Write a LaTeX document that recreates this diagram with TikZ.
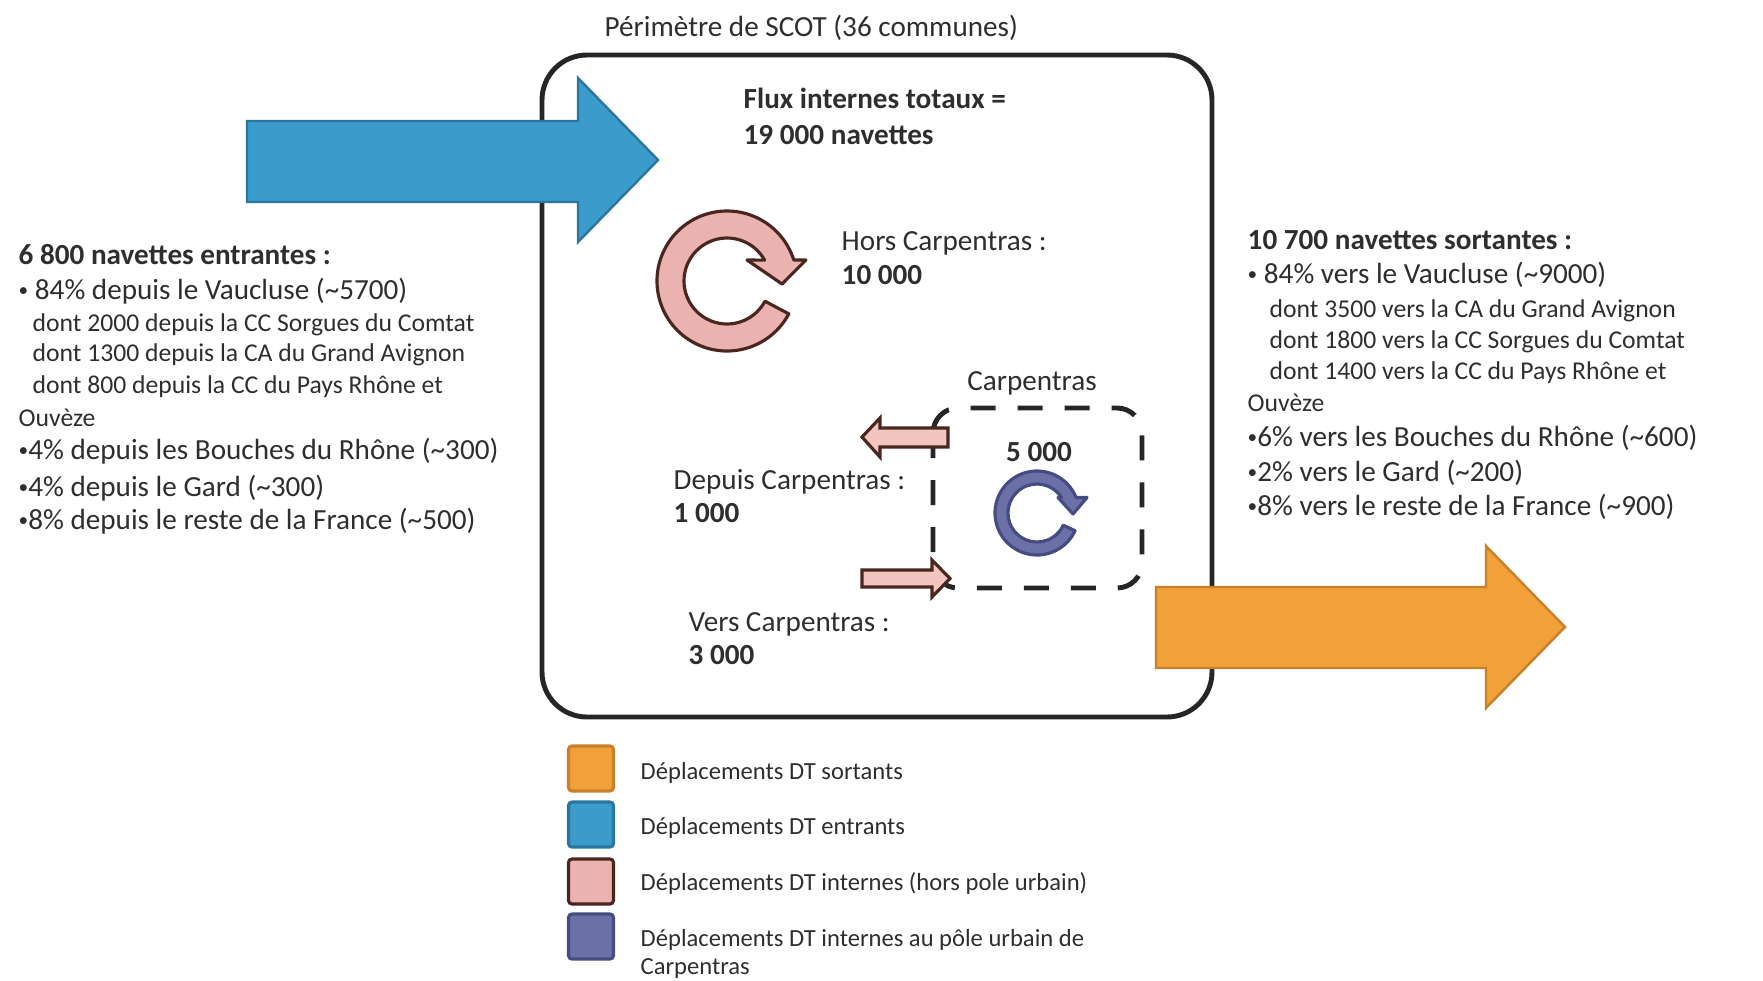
\documentclass[tikz,border=0pt]{standalone}
\usepackage{fontspec}
\setmainfont{Carlito}
\usepackage{xcolor}
\definecolor{entrant}{HTML}{3B9BCB}
\definecolor{entrantdk}{HTML}{2B769E}
\definecolor{sortant}{HTML}{F2A03A}
\definecolor{sortantdk}{HTML}{C9802A}
\definecolor{interne}{HTML}{EBB3AF}
\definecolor{internelt}{HTML}{F2C6BE}
\definecolor{internedk}{HTML}{4A2620}
\definecolor{urbain}{HTML}{6B71A7}
\definecolor{urbaindk}{HTML}{464C82}
\definecolor{cadre}{HTML}{262626}
\definecolor{encre}{HTML}{2E2E2E}
\usepackage{tikz}
\usetikzlibrary{positioning}
\newcommand{\puce}{{\fontsize{5.5}{6}\selectfont\raisebox{0.25ex}{•}}}

\begin{document}
\begin{tikzpicture}[
    txt/.style={inner sep=0pt, anchor=base west, text=encre, font=\fontsize{8.3}{10}\selectfont},
    sub/.style={txt, font=\fontsize{7.3}{9}\selectfont},
    hdr/.style={txt, font=\fontsize{8.3}{10}\selectfont\bfseries},
    leg/.style={inner sep=0pt, anchor=west, align=left, text=encre, font=\fontsize{7}{8}\selectfont},
    legbox/.style={draw, line width=0.9pt, rounded corners=1pt, minimum size=0.45cm, inner sep=0pt},
    flow/.style={line width=0.7pt, line join=miter},
    swirl/.style={line width=0.9pt, line join=round}]
  \useasboundingbox (0,0) rectangle (17.63,9.80);
  % perimetre du SCOT
  \draw[cadre, line width=1.4pt, rounded corners=0.45cm] (5.42,9.25) rectangle (12.12,2.63);
  \node[txt] (titre) at (6.04,9.44) {Périmètre de SCOT (36 communes)};

  % flux entrants / sortants
  \draw[flow, fill=entrant, draw=entrantdk] (2.47,8.59) -- (5.78,8.59) -- (5.78,9.02) -- (6.58,8.20)
    -- (5.78,7.38) -- (5.78,7.78) -- (2.47,7.78) -- cycle;
  \draw[flow, fill=sortant, draw=sortantdk] (11.56,3.93) -- (14.86,3.93) -- (14.86,4.34) -- (15.65,3.53)
    -- (14.86,2.72) -- (14.86,3.12) -- (11.56,3.12) -- cycle;

  % flux internes hors Carpentras
  \begin{scope}[shift={(7.27,6.99)}]
    \draw[swirl, fill=interne, draw=internedk] (-28:0.70) arc[start angle=-28, end angle=-342.5, radius=0.70]
      -- (0.79,0.21) -- (0.55,-0.03) -- (0.20,0.21) -- (29:0.43) arc[start angle=29, end angle=332, radius=0.43] -- cycle;
  \end{scope}
  \node[hdr] (flux) at (7.43,8.72) {Flux internes totaux =};
  \node[hdr] (total) at (7.43,8.36) {19 000 navettes};
  \node[txt] (hors) at (8.41,7.30) {Hors Carpentras :};
  \node[hdr] (horsval) at (8.41,6.96) {10 000};

  % pole urbain de Carpentras
  \draw[cadre, line width=1.4pt, dash pattern=on 0.25cm off 0.22cm, rounded corners=0.25cm] (9.33,5.72) rectangle (11.42,3.92);
  \begin{scope}[shift={(10.37,4.67)}]
    \draw[swirl, fill=urbain, draw=urbaindk] (-25:0.42) arc[start angle=-25, end angle=-338.3, radius=0.42]
      -- (0.50,0.155) -- (0.36,-0.01) -- (0.21,0.155) -- (32.3:0.29) arc[start angle=32.3, end angle=335, radius=0.29] -- cycle;
  \end{scope}
  \draw[flow, line width=0.9pt, fill=internelt, draw=internedk] (9.48,5.52) -- (8.80,5.52) -- (8.80,5.62) -- (8.62,5.43)
    -- (8.80,5.23) -- (8.80,5.33) -- (9.48,5.33) -- cycle;
  \draw[flow, line width=0.9pt, fill=internelt, draw=internedk] (8.62,4.10) -- (9.32,4.10) -- (9.32,4.20) -- (9.50,4.015)
    -- (9.32,3.83) -- (9.32,3.93) -- (8.62,3.93) -- cycle;
  \node[txt, anchor=base] (carp) at (10.32,5.90) {Carpentras};
  \node[hdr, anchor=base] (carpval) at (10.39,5.19) {5 000};
  \node[txt] (depuis) at (6.73,4.91) {Depuis Carpentras :};
  \node[hdr] (depuisval) at (6.73,4.58) {1 000};
  \node[txt] (vers) at (6.88,3.49) {Vers Carpentras :};
  \node[hdr] (versval) at (6.88,3.16) {3 000};

  % navettes entrantes
  \node[hdr] (in0) at (0.18,7.16) {6 800 navettes entrantes :};
  \node[txt] (in1) at (0.18,6.81) {\puce{} 84\% depuis le Vaucluse (\textasciitilde{}5700)};
  \node[sub] (in2) at (0.32,6.49) {dont 2000 depuis la CC Sorgues du Comtat};
  \node[sub] (in3) at (0.32,6.19) {dont 1300 depuis la CA du Grand Avignon};
  \node[sub] (in4) at (0.32,5.87) {dont 800 depuis la CC du Pays Rhône et};
  \node[sub] (in5) at (0.18,5.54) {Ouvèze};
  \node[txt] (in6) at (0.18,5.21) {\puce4\% depuis les Bouches du Rhône (\textasciitilde{}300)};
  \node[txt] (in7) at (0.18,4.84) {\puce4\% depuis le Gard (\textasciitilde{}300)};
  \node[txt] (in8) at (0.18,4.51) {\puce8\% depuis le reste de la France (\textasciitilde{}500)};

  % navettes sortantes
  \node[hdr] (out0) at (12.47,7.31) {10 700 navettes sortantes :};
  \node[txt] (out1) at (12.47,6.97) {\puce{} 84\% vers le Vaucluse (\textasciitilde{}9000)};
  \node[sub] (out2) at (12.69,6.63) {dont 3500 vers la CA du Grand Avignon};
  \node[sub] (out3) at (12.69,6.32) {dont 1800 vers la CC Sorgues du Comtat};
  \node[sub] (out4) at (12.69,6.01) {dont 1400 vers la CC du Pays Rhône et};
  \node[sub] (out5) at (12.47,5.69) {Ouvèze};
  \node[txt] (out6) at (12.47,5.34) {\puce6\% vers les Bouches du Rhône (\textasciitilde{}600)};
  \node[txt] (out7) at (12.47,4.99) {\puce2\% vers le Gard (\textasciitilde{}200)};
  \node[txt] (out8) at (12.47,4.65) {\puce8\% vers le reste de la France (\textasciitilde{}900)};

  % legende
  \node[legbox, draw=sortantdk, fill=sortant] (k1) at (5.91,2.115) {};
  \node[legbox, draw=entrantdk, fill=entrant] (k2) at (5.91,1.555) {};
  \node[legbox, draw=internedk, fill=interne] (k3) at (5.91,0.985) {};
  \node[legbox, draw=urbaindk, fill=urbain] (k4) at (5.91,0.435) {};
  \node[leg] (t1) at (6.40,2.07) {Déplacements DT sortants};
  \node[leg] (t2) at (6.40,1.52) {Déplacements DT entrants};
  \node[leg] (t3) at (6.40,0.97) {Déplacements DT internes (hors pole urbain)};
  \node[leg] (t4) at (6.40,0.26) {Déplacements DT internes au pôle urbain de\\Carpentras};
\end{tikzpicture}
\end{document}
